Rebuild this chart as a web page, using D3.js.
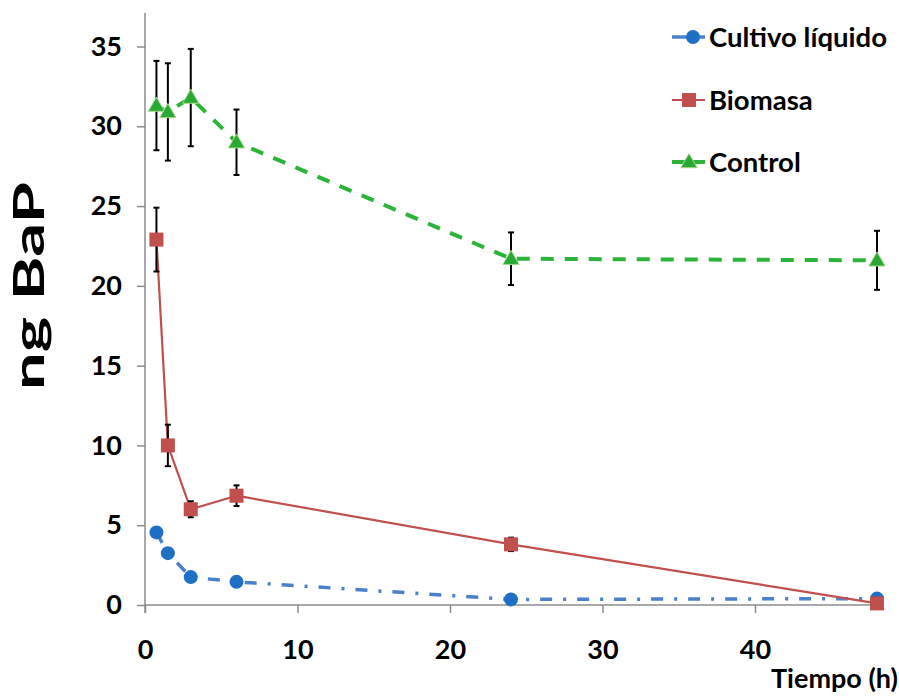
<!DOCTYPE html>
<html>
<head>
<meta charset="utf-8">
<script src="https://cdn.jsdelivr.net/npm/d3@7"></script>
<style>
  html, body { margin: 0; padding: 0; background: #fff; }
  svg { display: block; }
  text { font-family: Lato, "Open Sans", sans-serif; font-weight: 700; fill: #000; }
</style>
</head>
<body>
<svg id="chart" width="899" height="698"></svg>
<script>
// Sampling times (h)
const tiempos = [0.75, 1.5, 3, 6, 24, 48];

// ng BaP per treatment, with standard deviations
const cultivo    = [4.55, 3.25, 1.75, 1.45, 0.35, 0.4];
const cultivoErr = [0.2, 0.2, 0.2, 0.2, 0.1, 0.1];
const biomasa    = [22.9, 10.0, 6.0, 6.85, 3.8, 0.1];
const biomasaErr = [2.0, 1.3, 0.5, 0.65, 0.42, 0];
const control    = [31.3, 30.9, 31.8, 29.0, 21.7, 21.6];
const controlErr = [2.8, 3.05, 3.05, 2.05, 1.65, 1.85];

const xTicks = [0, 10, 20, 30, 40];
const yTicks = [0, 5, 10, 15, 20, 25, 30, 35];
const seriesNames = ["Cultivo líquido", "Biomasa", "Control"];

const svg = d3.select("#chart");

const x = d3.scaleLinear().domain([0, 48]).range([145, 877]);
const y = d3.scaleLinear().domain([0, 37.1]).range([605, 13]);

const axisColor = "#8c8c8c";

// Y axis
const yAxis = svg.append("g")
  .attr("transform", `translate(${x(0)},0)`)
  .call(d3.axisLeft(y).tickValues(yTicks).tickSize(8).tickPadding(15).tickFormat(d3.format("d")));
yAxis.select(".domain").attr("stroke", axisColor).attr("stroke-width", 1.5).attr("d", `M0,${y(0) + 8}V${y.range()[1]}`);
yAxis.selectAll(".tick line").attr("stroke", axisColor).attr("stroke-width", 1.5);
yAxis.selectAll(".tick text").attr("font-size", 27).attr("font-family", "Lato").attr("font-weight", 700).attr("fill", "#000");

// X axis
const xAxis = svg.append("g")
  .attr("transform", `translate(0,${y(0)})`)
  .call(d3.axisBottom(x).tickValues(xTicks).tickSize(8).tickPadding(27).tickFormat(d3.format("d")));
xAxis.select(".domain").attr("stroke", axisColor).attr("stroke-width", 1.5).attr("d", `M${x(0)},0H${x.range()[1]}`);
xAxis.selectAll(".tick line").attr("stroke", axisColor).attr("stroke-width", 1.5);
xAxis.selectAll(".tick text").attr("font-size", 27).attr("font-family", "Lato").attr("font-weight", 700).attr("fill", "#000");

// Axis titles
svg.append("text")
  .attr("x", 898).attr("y", 688)
  .attr("text-anchor", "end")
  .attr("font-size", 27)
  .text("Tiempo (h)");

svg.append("text")
  .attr("transform", "translate(44,286) rotate(-90)")
  .attr("text-anchor", "middle")
  .attr("font-size", 42)
  .attr("font-weight", 900)
  .attr("textLength", 208)
  .attr("lengthAdjust", "spacingAndGlyphs")
  .text("ng BaP");

const series = [
  { name: seriesNames[0], values: cultivo, err: cultivoErr, line: "#4a80cc", width: 3.5, dash: "12,11,3,11", marker: "circle", fill: "#1f6fc4", stroke: "#1f6fc4" },
  { name: seriesNames[1], values: biomasa, err: biomasaErr, line: "#c0504d", width: 2.2, dash: null, marker: "square", fill: "#c0504d", stroke: "#c0504d" },
  { name: seriesNames[2], values: control, err: controlErr, line: "#2db33a", width: 4, dash: "13,11", marker: "triangle", fill: "#27a934", stroke: "#a9d78e" }
];

function drawMarker(g, kind, cx, cy, fill, stroke) {
  if (kind === "circle") {
    g.append("circle").attr("cx", cx).attr("cy", cy).attr("r", 7).attr("fill", fill);
  } else if (kind === "square") {
    g.append("rect").attr("x", cx - 7).attr("y", cy - 7).attr("width", 14).attr("height", 14).attr("fill", fill);
  } else {
    g.append("path")
      .attr("d", d3.symbol().type(d3.symbolTriangle).size(115)())
      .attr("transform", `translate(${cx},${cy + 1})`)
      .attr("fill", fill).attr("stroke", stroke).attr("stroke-width", 1);
  }
}

const line = d3.line().x(d => x(d[0])).y(d => y(d[1]));

series.forEach(s => {
  const g = svg.append("g");
  const pts = tiempos.map((t, i) => [t, s.values[i]]);

  g.append("path")
    .attr("d", line(pts))
    .attr("fill", "none")
    .attr("stroke", s.line)
    .attr("stroke-width", s.width)
    .attr("stroke-dasharray", s.dash)
    .attr("stroke-linejoin", "round");

  // Error bars
  tiempos.forEach((t, i) => {
    const e = s.err[i];
    if (!e) return;
    const top = y(s.values[i] + e), bot = y(s.values[i] - e), cx = x(t);
    g.append("line").attr("x1", cx).attr("x2", cx).attr("y1", top).attr("y2", bot)
      .attr("stroke", "#000").attr("stroke-width", 2);
    [top, bot].forEach(yy => g.append("line")
      .attr("x1", cx - 3).attr("x2", cx + 3).attr("y1", yy).attr("y2", yy)
      .attr("stroke", "#000").attr("stroke-width", 2));
  });

  pts.forEach(p => drawMarker(g, s.marker, x(p[0]), y(p[1]), s.fill, s.stroke));
});

// Legend
const legendRows = [37, 100, 162];
series.forEach((s, i) => {
  const cy = legendRows[i];
  const g = svg.append("g");
  g.append("line").attr("x1", 672).attr("x2", 705).attr("y1", cy).attr("y2", cy)
    .attr("stroke", s.line).attr("stroke-width", s.width);
  drawMarker(g, s.marker, i === 0 ? 693 : 689, cy, s.fill, s.stroke);
  g.append("text").attr("x", 709).attr("y", cy + 10).attr("font-size", 27.5).text(s.name);
});
</script>
</body>
</html>
